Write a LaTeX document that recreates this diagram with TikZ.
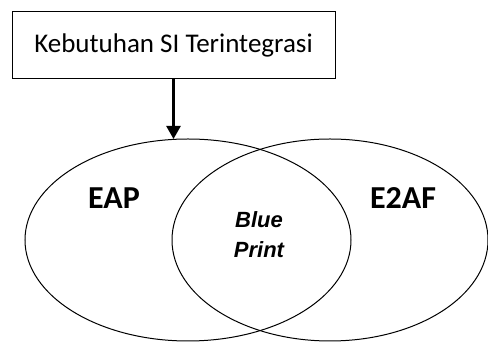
\documentclass[tikz,border=0pt]{standalone}
\usepackage{fontspec}
\setmainfont{Carlito}
\newfontfamily\arialfont{Liberation Sans}
\usetikzlibrary{arrows.meta,positioning,shapes.geometric}

\begin{document}
\begin{tikzpicture}[x=1pt, y=1pt,
    every node/.style={inner sep=0pt},
    setbox/.style={draw, line width=1pt, minimum width=323pt, minimum height=67pt},
    setoval/.style={draw, ellipse, line width=1pt},
    setlabel/.style={font=\fontsize{32}{34}\selectfont\bfseries}]

  % ---- Frame ----
  \useasboundingbox (0,0) rectangle (488,342);
  \clip (0,0) rectangle (488,342);

  % ---- Top box ----
  \node[setbox, font=\fontsize{27}{30}\selectfont] (need) at (173.5,296.5)
    {Kebutuhan SI Terintegrasi};
  \coordinate (hit) at (173.5,203);

  % ---- Sets ----
  % left: EAP
  \node[setoval, minimum width=326pt, minimum height=202pt] (eap) at (188,102) {};
  % right: E2AF
  \node[setoval, minimum width=316pt, minimum height=202pt] (e2af) at (330,102) {};

  % ---- Labels ----
  \node[setlabel] (eaplbl) at (114,144) {EAP};
  \node[setlabel] (e2aflbl) at (403,144) {E2AF};
  \node[font=\arialfont\fontsize{22}{30}\selectfont\bfseries\itshape, align=center]
    (bp) at (259,107) {Blue\\Print};

  % ---- Arrow ----
  \draw[line width=2.5pt, -{Triangle[length=13pt, width=14pt]}] (need.south) -- (hit);

\end{tikzpicture}
\end{document}
